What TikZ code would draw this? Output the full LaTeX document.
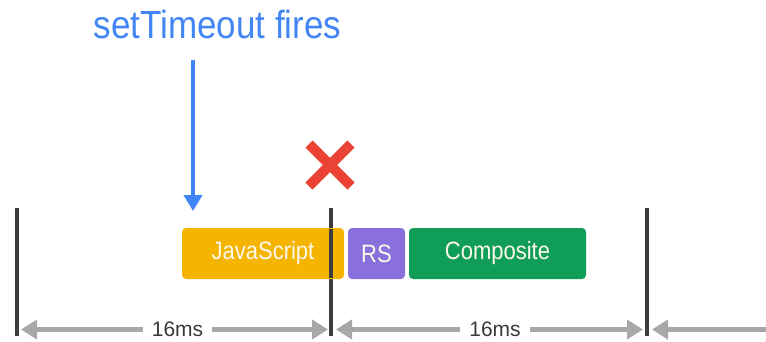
\documentclass[tikz,border=0pt]{standalone}
\usepackage{fontspec}
\setmainfont{Liberation Sans}
\usetikzlibrary{arrows.meta}
\definecolor{gblue}{HTML}{4285F4}
\definecolor{gred}{HTML}{EA4335}
\definecolor{gamber}{HTML}{F4B400}
\definecolor{gpurple}{HTML}{8A70DC}
\definecolor{ggreen}{HTML}{0F9D58}
\definecolor{bardark}{HTML}{3C3C3C}
\definecolor{arrgray}{HTML}{A8A8A8}
\definecolor{labgray}{HTML}{3A3A3A}
\definecolor{boxtext}{HTML}{FCF8EC}
\newcommand{\tallt}[1]{\scalebox{1}[1.14]{#1}}
\tikzset{
  task/.style={rounded corners=4pt, minimum height=51pt, inner sep=0pt, text=boxtext,
    font=\fontsize{22pt}{24pt}\selectfont},
  framebar/.style={draw=bardark, line width=4pt},
  span/.style={draw=arrgray, line width=4.5pt, -{Triangle[length=16pt,width=19pt]}},
  spanlabel/.style={inner xsep=0pt, inner ysep=0pt, text=labgray, font=\fontsize{21pt}{23pt}\selectfont},
  firearrow/.style={draw=gblue, line width=4.5pt, -{Triangle[length=16pt,width=18pt]}},
  cross/.style={draw=gred, line width=10pt}
}
\begin{document}
\begin{tikzpicture}[x=1pt,y=-1pt]
\useasboundingbox (0,0) rectangle (766,341);
% frame bars
\coordinate (b1t) at (17,208); \coordinate (b1b) at (17,336);
\coordinate (b2t) at (331,208); \coordinate (b2b) at (331,336);
\coordinate (b3t) at (647,208); \coordinate (b3b) at (647,336);
\draw[framebar] (b1t) -- (b1b);
\draw[framebar] (b2t) -- (b2b);
\draw[framebar] (b3t) -- (b3b);
% tasks
\node[task, fill=gamber, minimum width=162pt] (js) at (263,253.5) {\tallt{JavaScript}};
\node[task, fill=gpurple, minimum width=57pt] (rs) at (376.5,253.5) {\tallt{RS}};
\node[task, fill=ggreen, minimum width=177pt] (comp) at (497.5,253.5) {\tallt{Composite}};
\draw[framebar] (331,229) -- (331,278);
% setTimeout label and arrow
\node[text=gblue, font=\fontsize{35pt}{38pt}\selectfont, anchor=base] (st) at (217.5,38.5) {\scalebox{1}[1.12]{setTimeout fires}};
\coordinate (fs) at (193,60);
\coordinate (fe) at (193,211);
\draw[firearrow] (fs) -- (fe);
% red cross
\coordinate (xc) at (330,165);
\draw[cross] (xc) ++(-21,-21) -- ++(42,42);
\draw[cross] (xc) ++(21,-21) -- ++(-42,42);
% spans
\node[spanlabel, minimum width=69pt] (l1) at (177.5,329.5) {16ms};
\node[spanlabel, minimum width=70pt] (l2) at (495,329.5) {16ms};
\coordinate (a1l) at (21,329.5); \coordinate (a1r) at (328,329.5);
\coordinate (a2l) at (336,329.5); \coordinate (a2r) at (643,329.5);
\coordinate (a3l) at (652,329.5); \coordinate (a3r) at (766,329.5);
\draw[span] (l1.west) -- (a1l);
\draw[span] (l1.east) -- (a1r);
\draw[span] (l2.west) -- (a2l);
\draw[span] (l2.east) -- (a2r);
\draw[span] (a3r) -- (a3l);
\end{tikzpicture}
\end{document}
